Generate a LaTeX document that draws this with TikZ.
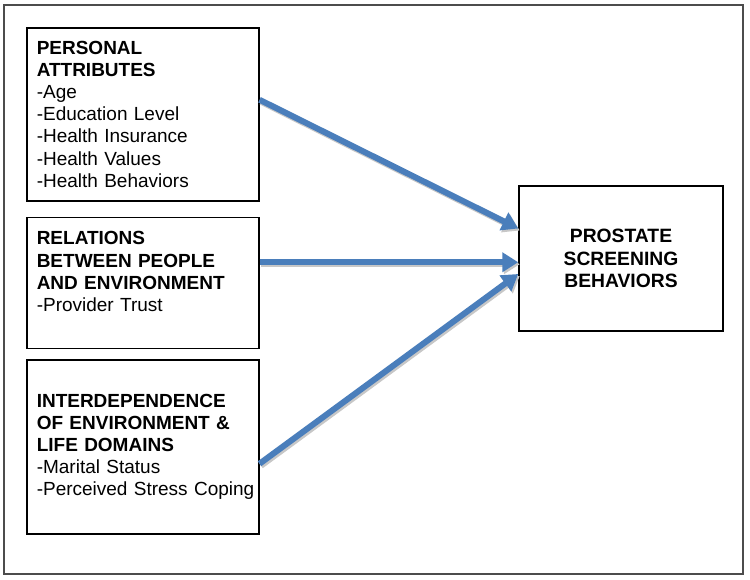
\documentclass[tikz,border=0pt]{standalone}
\usepackage{fontspec}
\setmainfont{Liberation Sans}
\usetikzlibrary{arrows.meta,positioning}
\definecolor{flowblue}{RGB}{74,126,187}
\newcommand{\ind}{\hspace*{5pt}}

\begin{document}
\begin{tikzpicture}[x=1pt,y=-1pt,
  factor/.style={draw, line width=1.5pt, text width=222pt, inner xsep=5pt, inner ysep=0pt, align=left, font=\fontsize{19}{22.2}\selectfont},
  outcome/.style={draw, line width=1.5pt, minimum width=204pt, minimum height=145pt, align=center, font=\fontsize{19.3}{22.5}\selectfont\bfseries},
  flow/.style={draw=flowblue, line width=6pt, -{Triangle[length=16pt,width=19pt]}},
  flowshadow/.style={flow, draw=black!22, transform canvas={shift={(1.5pt,-2pt)}}}]
\useasboundingbox (0,0) rectangle (750,579);

% Frame
\draw[draw=black!70, line width=1.2pt] (4,5) rectangle (743,574);

% Factors
\node[factor, anchor=north west, minimum height=173pt] (pers) at (26,27)
  {\ind\textbf{PERSONAL}\\ \ind\textbf{ATTRIBUTES}\\ \ind-Age\\ \ind-Education Level\\ \ind-Health Insurance\\ \ind-Health Values\\ \ind-Health Behaviors};
\node[factor, below=15pt of pers, minimum height=131pt] (rel)
  {\ind\textbf{RELATIONS}\\ \ind\textbf{BETWEEN PEOPLE}\\ \ind\textbf{AND ENVIRONMENT}\\ \ind-Provider Trust\\ ~};
\node[factor, below=10pt of rel, minimum height=174pt] (inter)
  {\ind\textbf{INTERDEPENDENCE}\\ \ind\textbf{OF ENVIRONMENT \&}\\ \ind\textbf{LIFE DOMAINS}\\ \ind-Marital Status\\ \ind\mbox{-Perceived Stress Coping}};

% Outcome
\node[outcome] (psb) at (621,258.5) {PROSTATE\\ SCREENING\\ BEHAVIORS};

% Arrows
\coordinate (s1) at ([yshift=14.5pt]pers.east);
\coordinate (t1) at ([yshift=30pt]psb.west);
\coordinate (s2) at ([yshift=20.5pt]rel.east);
\coordinate (t2) at (s2 -| psb.west);
\coordinate (s3) at ([yshift=-17pt]inter.east);
\coordinate (t3) at ([yshift=-15.5pt]psb.west);
\foreach \a/\b in {s1/t1, s2/t2, s3/t3} {
  \draw[flowshadow] (\a) -- (\b);
  \draw[flow] (\a) -- (\b);
}
\end{tikzpicture}
\end{document}
